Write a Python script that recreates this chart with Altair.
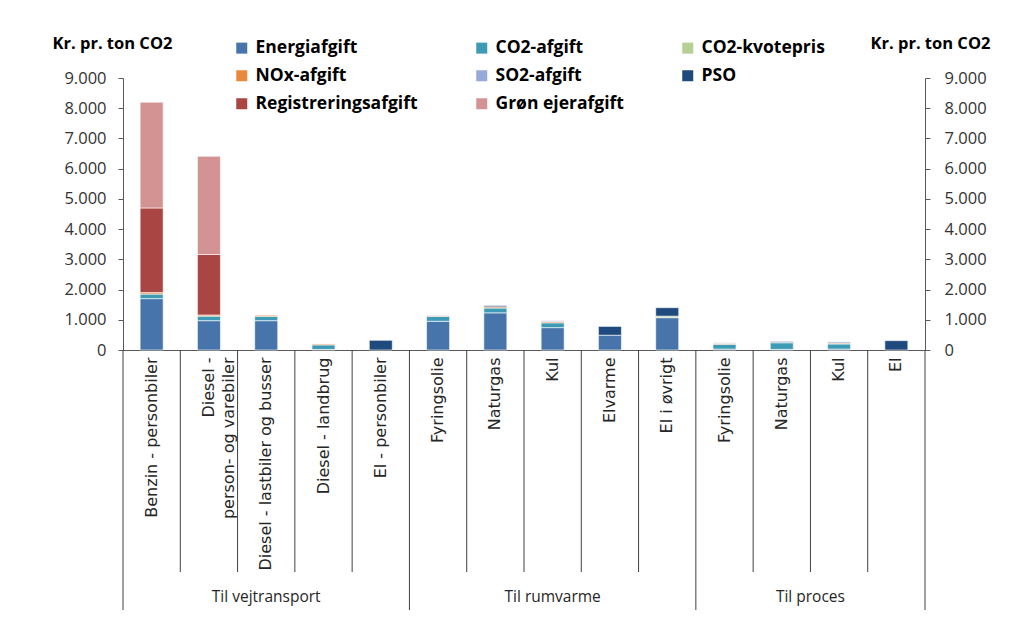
import altair as alt
import pandas as pd

categories = ["Benzin - personbiler", "Diesel -|person- og varebiler", "Diesel - lastbiler og busser",
              "Diesel - landbrug", "El - personbiler", "Fyringsolie", "Naturgas", "Kul", "Elvarme",
              "El i øvrigt", "Fyringsolie ", "Naturgas ", "Kul ", "El"]
group_of = ["Til vejtransport"] * 5 + ["Til rumvarme"] * 5 + ["Til proces"] * 4

series = ["Energiafgift", "CO2-afgift", "CO2-kvotepris", "NOx-afgift", "SO2-afgift", "PSO",
          "Registreringsafgift", "Grøn ejerafgift"]
colors = ["#4674AB", "#3E9BB5", "#B5CF94", "#E8893D", "#96A9D8", "#1F4A7E", "#A94543", "#D49393"]
# legend is filled column by column: this order gives the reference's row layout
legend_order = ["Energiafgift", "NOx-afgift", "Registreringsafgift", "CO2-afgift", "SO2-afgift",
                "Grøn ejerafgift", "CO2-kvotepris", "PSO"]

energiafgift = [1700, 970, 970, 20, 0, 950, 1230, 740, 490, 1070, 30, 20, 30, 0]
co2_afgift = [150, 150, 145, 150, 0, 160, 160, 160, 0, 0, 160, 220, 170, 0]
co2_kvotepris = [0, 0, 0, 0, 0, 0, 0, 0, 0, 50, 0, 0, 0, 0]
nox_afgift = [50, 40, 35, 30, 0, 30, 40, 40, 0, 0, 30, 10, 30, 0]
so2_afgift = [0, 0, 0, 0, 0, 20, 0, 30, 0, 0, 20, 0, 40, 0]
pso = [0, 0, 0, 0, 320, 0, 40, 0, 290, 280, 0, 30, 0, 310]
registreringsafgift = [2800, 2000, 0, 0, 0, 0, 0, 0, 0, 0, 0, 0, 0, 0]
groen_ejerafgift = [3500, 3250, 0, 0, 0, 0, 0, 0, 0, 0, 0, 0, 0, 0]

values = [energiafgift, co2_afgift, co2_kvotepris, nox_afgift, so2_afgift, pso,
          registreringsafgift, groen_ejerafgift]

rows = []
for si, (s, vals) in enumerate(zip(series, values)):
    for ci, c in enumerate(categories):
        if vals[ci] > 0:
            rows.append({"cat": c, "series": s, "ord": si, "val": vals[ci]})
df = pd.DataFrame(rows)

color_of = dict(zip(series, colors))
legend_colors = [color_of[s] for s in legend_order]

W, H = 802, 272
CAT_LINE = 222
GRP_LINE = 260
GRP_LABEL_Y = 519

xscale = alt.Scale(domain=categories, paddingInner=0, paddingOuter=0)
yscale = alt.Scale(domain=[0, 9000], nice=False, zero=True)
yvals = list(range(0, 9001, 1000))
label_expr = "replace(format(datum.value, ','), ',', '.')"

bars = alt.Chart(df).mark_bar(size=23, stroke="white", strokeWidth=0.6).encode(
    x=alt.X("cat:N", scale=xscale, title=None,
            axis=alt.Axis(labelAngle=-90, labelExpr="split(datum.label, '|')",
                          labelFont="DejaVu Sans", labelFontSize=16, labelColor="#262626",
                          labelLineHeight=20, labelLimit=400, labelPadding=7, tickSize=0,
                          domainColor="#595959", domainWidth=1)),
    y=alt.Y("val:Q", stack="zero", scale=yscale,
            axis=alt.Axis(orient="left", values=yvals, labelExpr=label_expr, grid=False,
                          tickSize=5, tickColor="#595959", domainColor="#595959",
                          labelFont="Open Sans", labelFontSize=16.5, labelColor="#333333",
                          labelPadding=12, title="Kr. pr. ton CO2", titleAngle=0,
                          titleAlign="left", titleBaseline="alphabetic", titleX=-71, titleY=-30,
                          titleFont="Open Sans", titleFontSize=16.5, titleFontWeight="bold",
                          titleColor="#000000")),
    color=alt.Color("series:N", scale=alt.Scale(domain=legend_order, range=legend_colors),
                    legend=alt.Legend(title=None, orient="none", legendX=110, legendY=-39,
                                      columns=3, columnPadding=55, rowPadding=9,
                                      symbolType="square", symbolSize=121, symbolStrokeWidth=0,
                                      labelFont="Open Sans", labelFontWeight="bold",
                                      labelFontSize=17.5, labelColor="#000000", labelOffset=5,
                                      labelLimit=300)),
    order=alt.Order("ord:Q"),
)

right_axis = alt.Chart(df).mark_point(opacity=0).encode(
    x=alt.X("cat:N", scale=xscale, title=None),
    y=alt.Y("val:Q", scale=yscale,
            axis=alt.Axis(orient="right", values=yvals, labelExpr=label_expr, grid=False,
                          tickSize=5, tickColor="#595959", domainColor="#595959",
                          labelFont="Open Sans", labelFontSize=16.5, labelColor="#333333",
                          labelPadding=14, title="Kr. pr. ton CO2", titleAngle=0,
                          titleAlign="left", titleBaseline="alphabetic", titleX=-55, titleY=-30,
                          titleFont="Open Sans", titleFontSize=16.5, titleFontWeight="bold",
                          titleColor="#000000")),
)

sep_df = pd.DataFrame({
    "cat": categories,
    "grpstart": [i == 0 or group_of[i] != group_of[i - 1] for i in range(len(categories))],
})

cat_rules = alt.Chart(sep_df[~sep_df["grpstart"]]).mark_rule(color="#404040", strokeWidth=1).encode(
    x=alt.X("cat:N", scale=xscale, title=None, bandPosition=0),
    y=alt.value(H), y2=alt.value(H + CAT_LINE),
)
grp_rules = alt.Chart(sep_df[sep_df["grpstart"]]).mark_rule(color="#404040", strokeWidth=1).encode(
    x=alt.X("cat:N", scale=xscale, title=None, bandPosition=0),
    y=alt.value(H), y2=alt.value(H + GRP_LINE),
)
end_rule = alt.Chart(sep_df.tail(1)).mark_rule(color="#404040", strokeWidth=1).encode(
    x=alt.X("cat:N", scale=xscale, title=None, bandPosition=1),
    y=alt.value(H), y2=alt.value(H + GRP_LINE),
)

groups_mid = pd.DataFrame({"cat": ["Diesel - lastbiler og busser", "Kul"],
                           "label": ["Til vejtransport", "Til rumvarme"]})
groups_edge = pd.DataFrame({"cat": ["Kul "], "label": ["Til proces"]})

txt_kw = dict(font="Open Sans", fontSize=15.5, color="#262626", baseline="middle", align="center")
grp_text1 = alt.Chart(groups_mid).mark_text(**txt_kw).encode(
    x=alt.X("cat:N", scale=xscale, title=None, bandPosition=0.5),
    y=alt.value(GRP_LABEL_Y), text="label:N",
)
grp_text2 = alt.Chart(groups_edge).mark_text(**txt_kw).encode(
    x=alt.X("cat:N", scale=xscale, title=None, bandPosition=0),
    y=alt.value(GRP_LABEL_Y), text="label:N",
)

chart = alt.layer(bars, right_axis, cat_rules, grp_rules, end_rule, grp_text1, grp_text2).resolve_scale(
    y="independent"
).properties(
    width=W, height=H,
    autosize=alt.AutoSizeParams(type="none"),
    padding={"left": 115, "top": 70, "right": 85, "bottom": 280},
    background="white",
).configure_view(stroke=None)

chart.save("out.html", embed_options={"renderer": "svg", "actions": False})
